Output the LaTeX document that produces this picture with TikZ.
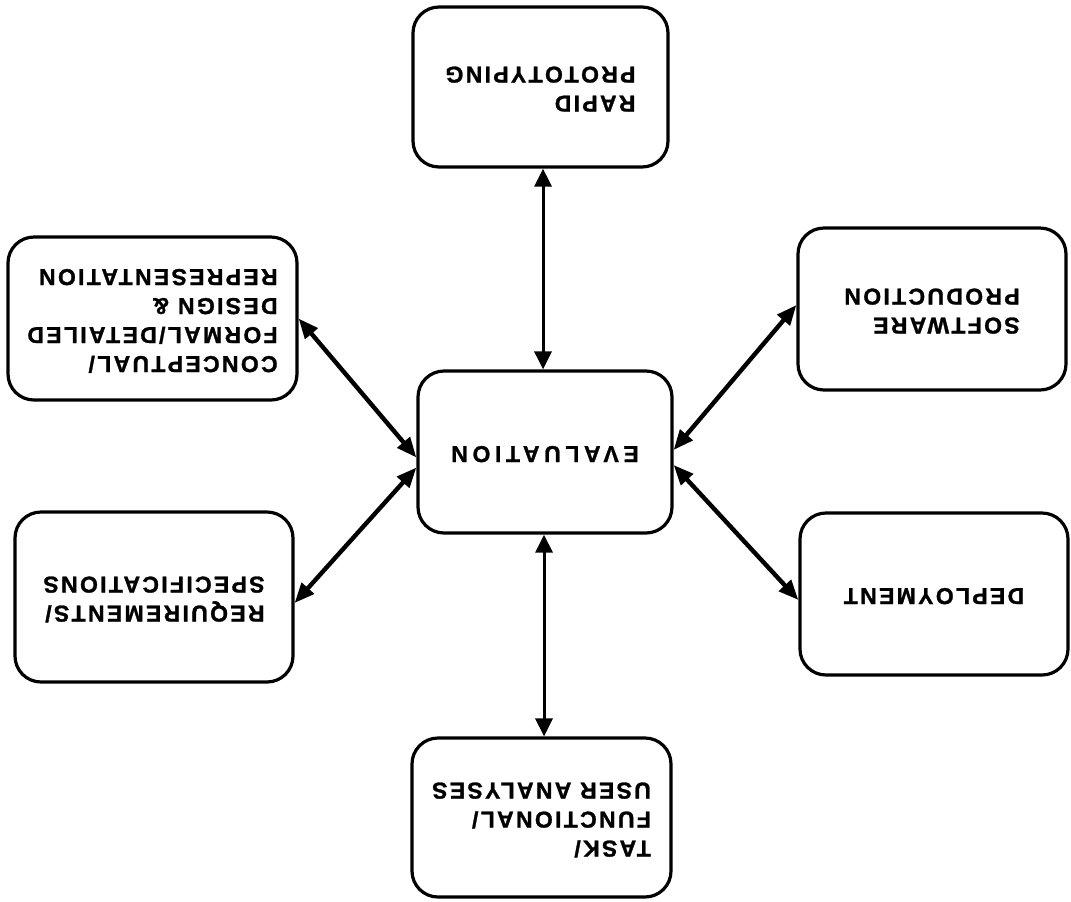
\documentclass[tikz,border=0pt]{standalone}
\usepackage{fontspec}
\setmainfont{Liberation Sans}
\usetikzlibrary{arrows.meta, positioning}

\newcommand{\stagefont}{\fontsize{11.5}{14.5}\selectfont\bfseries\addfontfeature{LetterSpace=10, FakeBold=1.2}}
\newcommand{\upside}[1]{\rotatebox[origin=c]{180}{\begin{tabular}{@{}l@{}}#1\end{tabular}}}

\tikzset{
  stage/.style={draw, line width=1.6pt, rounded corners=13pt, inner sep=0pt, font=\stagefont},
  link/.style={{Triangle[length=10pt,width=8pt]}-{Triangle[length=10pt,width=8pt]}, line width=2.2pt},
  vlink/.style={{Triangle[length=9pt,width=8.5pt]}-{Triangle[length=9pt,width=8.5pt]}, line width=1.5pt},
}

\begin{document}
\begin{tikzpicture}[x=0.5pt, y=-0.5pt]
  \useasboundingbox (0,0) rectangle (1071,901);

  % stages around the centre
  \node[stage, minimum width=127.5pt, minimum height=80pt] (rapid) at (540.5, 87) {\upside{RAPID\\PROTOTYPING}};
  \node[stage, minimum width=144.5pt, minimum height=81.5pt] (concept) at (152.5, 318.5) {\upside{CONCEPTUAL/\\FORMAL/DETAILED\\DESIGN \&\\REPRESENTATION}};
  \node[stage, minimum width=134pt, minimum height=81pt] (soft) at (932, 309) {\upside{SOFTWARE\\PRODUCTION}};
  \node[stage, minimum width=127pt, minimum height=81pt, font=\stagefont\addfontfeature{LetterSpace=20}] (eval) at (545, 452) {\upside{EVALUATION}};
  \node[stage, minimum width=139pt, minimum height=85pt] (req) at (154, 597) {\upside{REQUIREMENTS/\\SPECIFICATIONS}};
  \node[stage, minimum width=134pt, minimum height=81pt] (deploy) at (934, 594) {\upside{DEPLOYMENT}};
  \node[stage, minimum width=129.5pt, minimum height=79.5pt] (task) at (541.5, 817.5) {\upside{TASK/\\FUNCTIONAL/\\USER ANALYSES}};

  % links to evaluation
  \draw[vlink] ([xshift=-1pt]eval.north) -- ([xshift=-1pt]eval.north |- rapid.south);
  \draw[vlink] ([xshift=-0.5pt]eval.south) -- ([xshift=-0.5pt]eval.south |- task.north);
  \draw[link] (concept.east) -- ([yshift=-2.75pt]eval.west);
  \draw[link] ([yshift=-3pt]req.east) -- ([yshift=-7.75pt]eval.west);
  \draw[link] ([yshift=2pt]soft.west) -- ([yshift=1pt]eval.east);
  \draw[link] ([yshift=-3pt]deploy.west) -- ([yshift=-6.5pt]eval.east);
\end{tikzpicture}
\end{document}
